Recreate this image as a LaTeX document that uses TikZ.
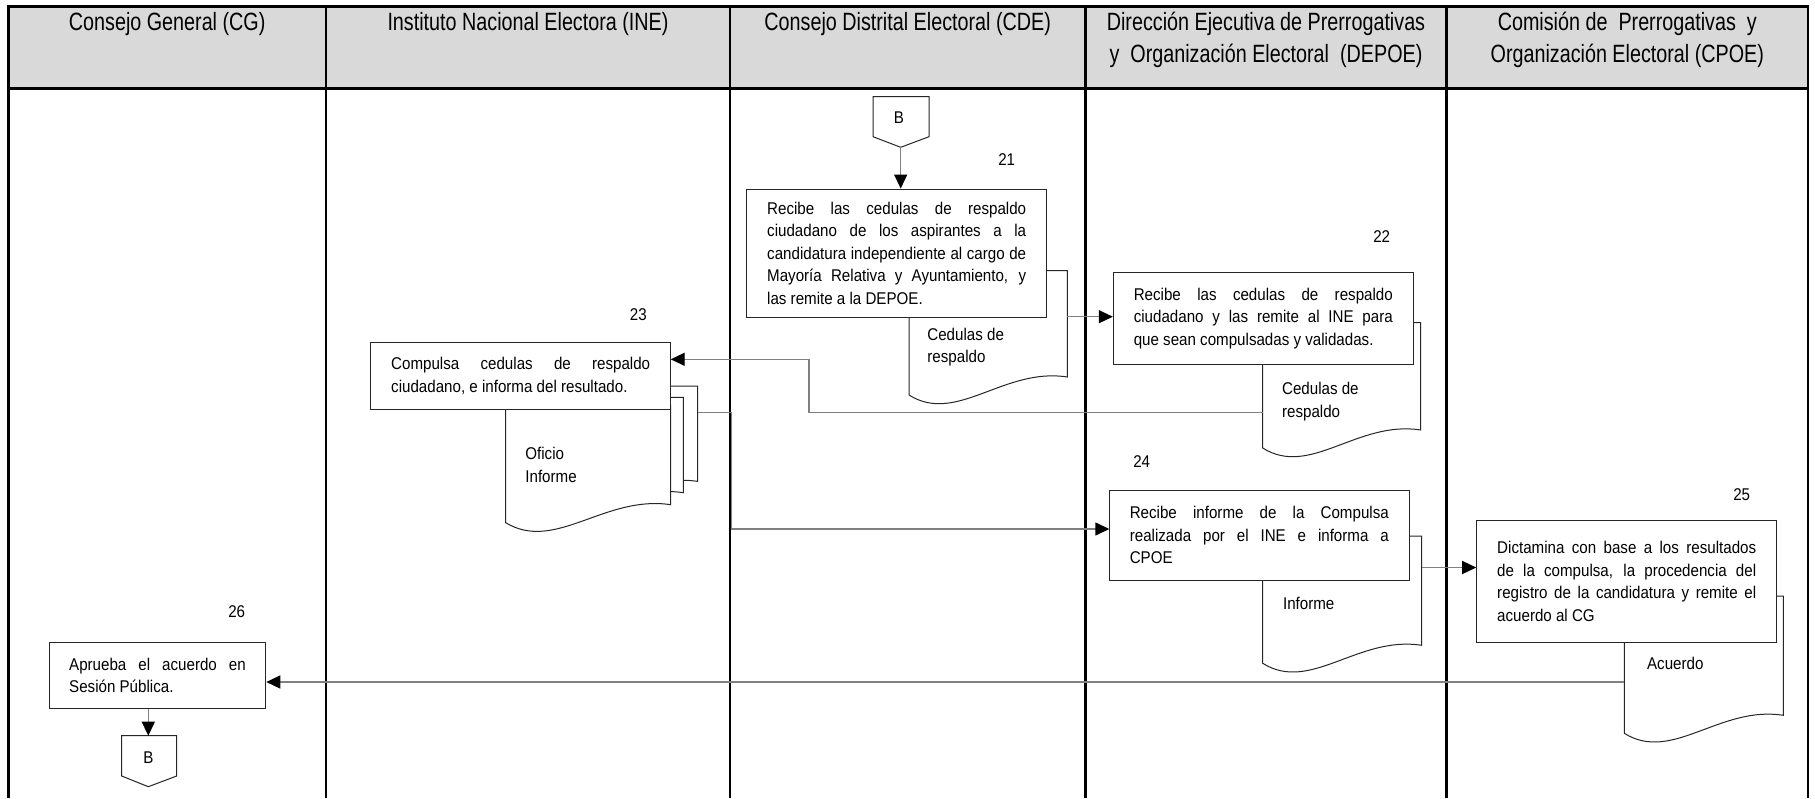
\documentclass[tikz,border=0pt]{standalone}
\usepackage{fontspec}
\usetikzlibrary{arrows.meta}
\newfontfamily\lanefont[FakeStretch=0.79]{Liberation Sans}
\newfontfamily\boxfont[FakeStretch=0.89]{Liberation Sans}
\hyphenpenalty=10000
\exhyphenpenalty=10000
% document shape: left, top, right, bottom at the left edge
\newcommand{\docpage}[4]{%
  \draw[doc] (#1,#2) -- (#1,#4) .. controls ({#1+0.3*(#3-#1)},{#4+30}) and ({#1+0.6*(#3-#1)},{#4-28}) .. (#3,{#4-18}) -- (#3,#2) -- cycle;}

\begin{document}
\begin{tikzpicture}[x=0.5pt,y=-0.5pt,
  lane/.style={line width=1.3pt},
  head/.style={font=\lanefont\fontsize{12.5}{15.85}\selectfont,align=center},
  proc/.style={draw=black!85,fill=white,line width=0.5pt,font=\boxfont\fontsize{8.5}{11.25}\selectfont,
    text width=129.5pt,align=justify,inner xsep=10.25pt,inner ysep=0pt},
  doc/.style={draw=black!85,fill=white,line width=0.5pt},
  doctext/.style={font=\boxfont\fontsize{8.5}{11.25}\selectfont,align=left,anchor=west,inner sep=0pt},
  num/.style={font=\boxfont\fontsize{8.5}{11.25}\selectfont,inner sep=0pt},
  flow/.style={draw=black!50,line width=0.7pt,-{Triangle[length=7pt,width=6.5pt,color=black]}}]
\useasboundingbox (0,0) rectangle (1815,798);
% lanes
\fill[black!15] (8.3,6.7) rectangle (1808,88.3);
\draw[lane] (8.3,798) -- (8.3,6.7) -- (1808,6.7) -- (1808,798);
\draw[lane] (8.3,88.3) -- (1808,88.3);
\foreach \x in {326,730,1085.5,1446.5} \draw[lane] (\x,6.7) -- (\x,798);
% lane titles
\node[head] (hCG) at (167.2,24) {Consejo General (CG)};
\node[head] (hINE) at (528,24) {Instituto Nacional Electora (INE)};
\node[head] (hCDE) at (907.7,24) {Consejo Distrital Electoral (CDE)};
\node[head] (hDEPOE) at (1266,40) {Dirección Ejecutiva de Prerrogativas\\y\ \ Organización Electoral\ \ (DEPOE)};
\node[head] (hCPOE) at (1627.3,40) {Comisión de\ \ Prerrogativas\ \ y\\Organización Electoral (CPOE)};
% documents behind the boxes
\docpage{909}{270.7}{1067.3}{395}
\docpage{1262.7}{322.7}{1420.7}{448}
\docpage{532.7}{386}{697.7}{499.4}
\docpage{518.4}{397.3}{683.3}{510.7}
\docpage{505.7}{405}{670.7}{522.7}
\docpage{1262.7}{536}{1421.7}{663.3}
\docpage{1624.3}{596}{1783.3}{733.3}
% activities
\node[proc,minimum height=64.35pt] (p21) at (896.7,253.4) {Recibe las cedulas de respaldo\linebreak ciudadano de los aspirantes a la\linebreak candidatura independiente al cargo de\linebreak Mayoría Relativa y Ayuntamiento, y\linebreak las remite a la DEPOE.};
\node[proc,minimum height=45.85pt] (p22) at (1263.3,318.2) {Recibe las cedulas de respaldo\linebreak ciudadano y las remite al INE para\linebreak que sean compulsadas y validadas.};
\node[proc,minimum height=33.3pt] (p23) at (520.7,376) {Compulsa cedulas de respaldo\linebreak ciudadano, e informa del resultado.};
\node[proc,minimum height=44.65pt] (p24) at (1259.3,535.4) {Recibe informe de la Compulsa\linebreak realizada por el INE e informa a\linebreak CPOE};
\node[proc,minimum height=61.15pt] (p25) at (1626.7,581.2) {Dictamina con base a los resultados\linebreak de la compulsa, la procedencia del\linebreak registro de la candidatura y remite el\linebreak acuerdo al CG};
\node[proc,text width=88.3pt,inner xsep=10pt,minimum height=33pt] (p26) at (157.5,675.3) {Aprueba el acuerdo en\linebreak Sesión Pública.};
% document texts
\node[doctext] (t21) at (927,347) {Cedulas de\\respaldo};
\node[doctext] (t22) at (1281.7,401.7) {Cedulas de\\respaldo};
\node[doctext] (t23) at (525,465) {Oficio\\Informe};
\node[doctext] (t24) at (1282.7,603.3) {Informe};
\node[doctext] (t25) at (1646.7,663.3) {Acuerdo};
% step numbers
\node[num] (n21) at (1006.7,160) {21};
\node[num] (n22) at (1381.7,236.7) {22};
\node[num] (n23) at (638.3,315) {23};
\node[num] (n24) at (1141.7,462) {24};
\node[num] (n25) at (1741.7,495) {25};
\node[num] (n26) at (236.7,611.7) {26};
% off-page connectors
\draw[doc] (873,96.7) -- (929,96.7) -- (929,136.7) -- (900.7,147.3) -- (873,136.7) -- cycle;
\node[num] (Btop) at (899,118) {B};
\coordinate (BtopTip) at (900.7,147.3);
\draw[doc] (121.7,735.7) -- (176.7,735.7) -- (176.7,776) -- (148.3,786.7) -- (121.7,776) -- cycle;
\node[num] (Bbot) at (148.3,757.3) {B};
\coordinate (BbotTop) at (148.3,735.7);
% flow
\coordinate (d21out) at (1067.3,316.7);
\coordinate (d22out) at (1262.7,412.7);
\coordinate (p23in) at (670.7,359.3);
\coordinate (d23out) at (697.7,412.7);
\coordinate (p24in) at (1109.3,529);
\coordinate (d24out) at (1421.7,567.5);
\coordinate (d25out) at (1624.3,682);
\draw[flow] (BtopTip) -- (BtopTip |- p21.north);
\draw[flow] (d21out) -- (d21out -| p22.west);
\draw[flow] (d22out) -- (809,412.7) |- (p23in);
\draw[flow] (d23out) -- (731.5,412.7) |- (p24in);
\draw[flow] (d24out) -- (d24out -| p25.west);
\draw[flow] (d25out) -- (d25out -| p26.east);
\draw[flow] (p26.south -| BbotTop) -- (BbotTop);
\end{tikzpicture}
\end{document}
